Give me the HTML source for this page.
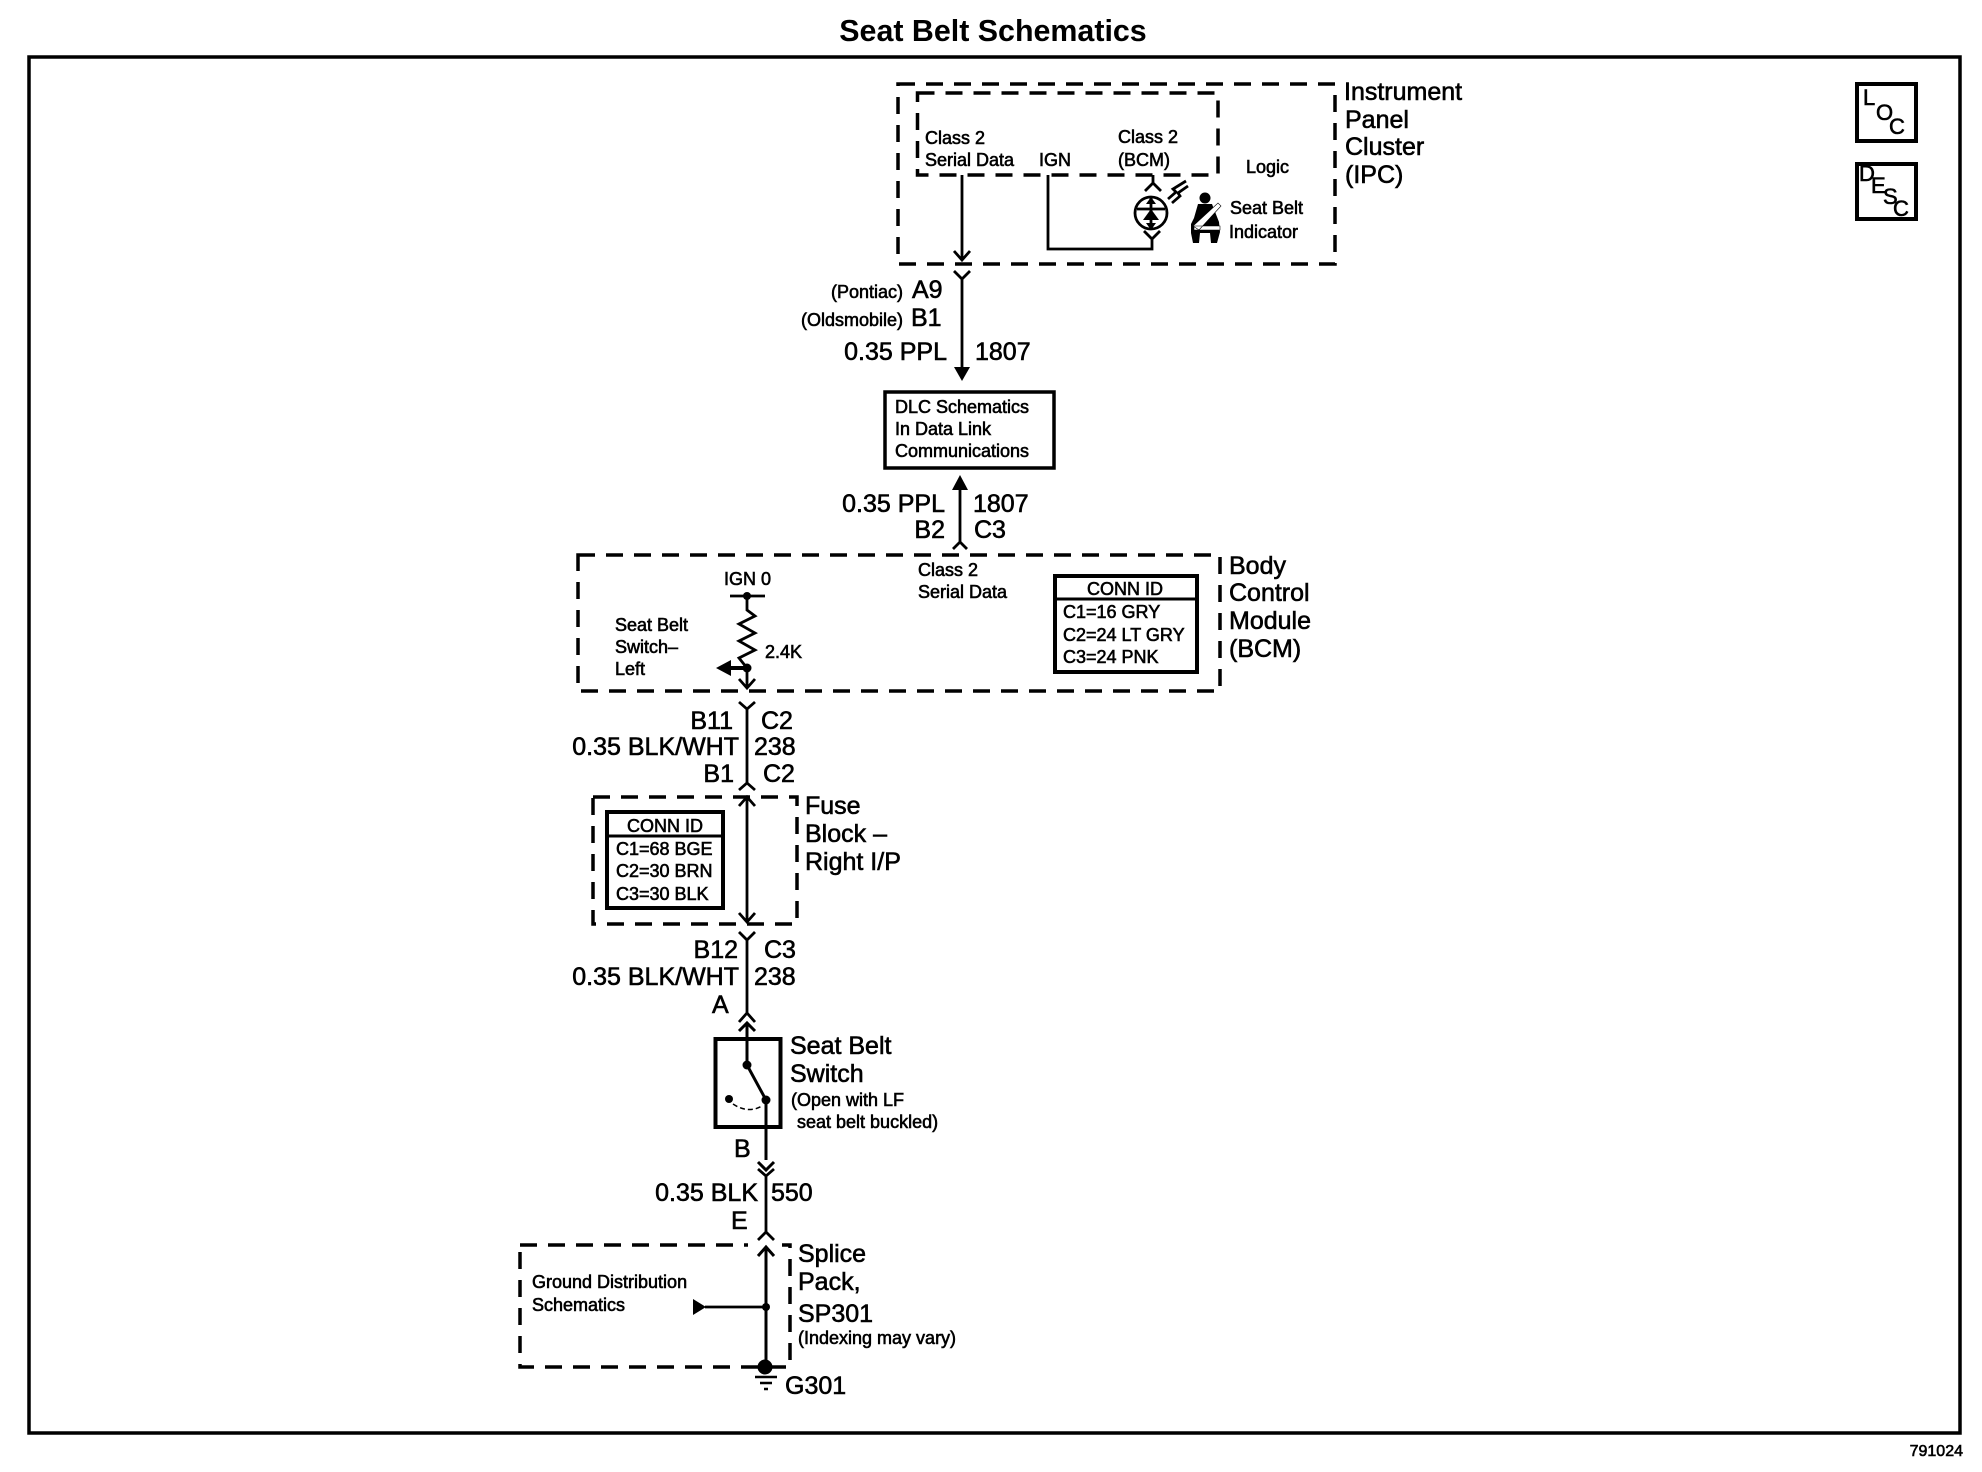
<!DOCTYPE html>
<html><head><meta charset="utf-8"><style>
html,body{margin:0;padding:0;background:#fff}
svg{display:block}
text{font-family:"Liberation Sans",Arial,sans-serif;fill:#000;stroke:#000;stroke-width:.6}
.L{font-size:25px}
.S{font-size:18px}
.T{font-size:30.4px;font-weight:bold;stroke-width:0}
.K{font-size:22px}
.E{text-anchor:end}
.w{fill:none;stroke:#000;stroke-width:2.8}
.d{fill:none;stroke:#000;stroke-width:3.5;stroke-dasharray:17 11}
</style></head><body>
<svg width="1982" height="1472" viewBox="0 0 1982 1472" xmlns="http://www.w3.org/2000/svg">
<text x="993" y="41" text-anchor="middle" class="T">Seat Belt Schematics</text>
<rect x="29" y="57" width="1931" height="1376" fill="none" stroke="#000" stroke-width="3.5"/>
<text x="1963" y="1456" text-anchor="end" style="font-size:16px">791024</text>

<!-- LOC / DESC -->
<rect x="1857" y="84" width="59" height="57" fill="none" stroke="#000" stroke-width="4"/>
<text x="1863" y="105" class="K">L</text><text x="1876" y="120" class="K">O</text><text x="1889" y="134" class="K">C</text>
<rect x="1857" y="164" width="59" height="55" fill="none" stroke="#000" stroke-width="4"/>
<text x="1859" y="181" class="K">D</text><text x="1871" y="193" class="K">E</text><text x="1883" y="204" class="K">S</text><text x="1893" y="216" class="K">C</text>

<!-- IPC -->
<rect x="898" y="84" width="437" height="180" class="d"/>
<rect x="917.5" y="93" width="300.500" height="82" class="d"/>
<text x="1344" y="100" class="L">Instrument</text>
<text x="1345" y="128" class="L">Panel</text>
<text x="1345" y="155" class="L">Cluster</text>
<text x="1345" y="183" class="L">(IPC)</text>
<text x="925" y="144" class="S">Class 2</text>
<text x="925" y="166" class="S">Serial Data</text>
<text x="1039" y="166" class="S">IGN</text>
<text x="1118" y="143" class="S">Class 2</text>
<text x="1118" y="166" class="S">(BCM)</text>
<text x="1246" y="173" class="S">Logic</text>
<text x="1230" y="214" class="S">Seat Belt</text>
<text x="1229" y="238" class="S">Indicator</text>

<path class="w" d="M962 175V260M954 251L962 260L970 251"/>
<path class="w" d="M954 271L962 279L970 271M962 279V368"/>
<path d="M954 367H970L962 381Z"/>
<path class="w" d="M1048 175V249H1152V239M1144 231L1152 239L1160 231"/>
<path class="w" d="M1153 175V183M1145 191L1153 183L1161 191"/>
<circle cx="1151" cy="213" r="16" fill="none" stroke="#000" stroke-width="2.8"/>
<path class="w" d="M1151 197V229M1137 209H1165"/>
<path d="M1151 209L1143 220H1159Z"/>
<path d="M1151 197L1146 204H1156ZM1151 230L1146 223H1156Z"/>
<path class="w" d="M1168 199L1176 192L1173 189L1186 181M1172 203L1180 196L1178 193L1188 186"/>

<!-- seat belt icon -->
<circle cx="1205" cy="198" r="5.5"/>
<path d="M1198 204H1212L1219 222L1220 232L1217 243H1211L1210 233H1200L1199 243H1193L1191 233L1191 224L1194 218Z"/>
<path d="M1193 226L1218 203L1221 206L1199 230ZM1194 226H1220V230H1194Z" fill="#fff" stroke="#000" stroke-width=".6"/>

<!-- left labels -->
<text x="903" y="298" class="S E">(Pontiac)</text>
<text x="903" y="326" class="S E">(Oldsmobile)</text>
<text x="912" y="298" class="L">A9</text>
<text x="911" y="326" class="L">B1</text>
<text x="947" y="360" class="L E">0.35 PPL</text>
<text x="975" y="360" class="L">1807</text>

<!-- DLC -->
<rect x="885" y="392" width="169" height="76" fill="#fff" stroke="#000" stroke-width="3.5"/>
<text x="895" y="413" class="S">DLC Schematics</text>
<text x="895" y="435" class="S">In Data Link</text>
<text x="895" y="457" class="S">Communications</text>

<path d="M952 490H968L960 475Z"/>
<path class="w" d="M960 489V542M953 549L960 542L967 549"/>
<text x="945" y="512" class="L E">0.35 PPL</text>
<text x="973" y="512" class="L">1807</text>
<text x="945" y="538" class="L E">B2</text>
<text x="974" y="538" class="L">C3</text>

<!-- BCM -->
<rect x="578" y="555" width="642" height="136" class="d"/>
<text x="1229" y="574" class="L">Body</text>
<text x="1229" y="601" class="L">Control</text>
<text x="1229" y="629" class="L">Module</text>
<text x="1229" y="657" class="L">(BCM)</text>
<text x="918" y="576" class="S">Class 2</text>
<text x="918" y="598" class="S">Serial Data</text>
<text x="724" y="585" class="S">IGN 0</text>
<path class="w" d="M730 596H765M747 596V610L755 616L739 624L755 633L739 641L755 650L739 658L747 668V688M739 679L747 688L755 679"/>
<circle cx="747" cy="596" r="4"/>
<circle cx="747" cy="668" r="4.5"/>
<path d="M716 668L731 660V676Z"/><path d="M730 666.500H747V669.500H730Z" stroke="#000"/>
<text x="765" y="658" class="S">2.4K</text>
<text x="615" y="631" class="S">Seat Belt</text>
<text x="615" y="653" class="S">Switch–</text>
<text x="615" y="675" class="S">Left</text>
<rect x="1055" y="576" width="142" height="96" fill="#fff" stroke="#000" stroke-width="4"/>
<path d="M1055 599H1197" stroke="#000" stroke-width="3"/>
<text x="1125" y="595" text-anchor="middle" class="S">CONN ID</text>
<text x="1063" y="618" class="S">C1=16 GRY</text>
<text x="1063" y="641" class="S">C2=24 LT GRY</text>
<text x="1063" y="663" class="S">C3=24 PNK</text>

<path class="w" d="M739 702L747 709L755 702M747 709V783M739 790L747 783L755 790"/>
<text x="733" y="729" class="L E">B11</text>
<text x="761" y="729" class="L">C2</text>
<text x="739" y="755" class="L E">0.35 BLK/WHT</text>
<text x="754" y="755" class="L">238</text>
<text x="734" y="782" class="L E">B1</text>
<text x="763" y="782" class="L">C2</text>

<!-- Fuse -->
<rect x="593" y="797" width="204" height="127" class="d"/>
<path class="w" d="M739 806L747 797L755 806M747 797V922M739 913L747 922L755 913"/>
<rect x="607" y="812" width="116" height="96" fill="#fff" stroke="#000" stroke-width="4"/>
<path d="M607 836H723" stroke="#000" stroke-width="3"/>
<text x="665" y="832" text-anchor="middle" class="S">CONN ID</text>
<text x="616" y="855" class="S">C1=68 BGE</text>
<text x="616" y="877" class="S">C2=30 BRN</text>
<text x="616" y="900" class="S">C3=30 BLK</text>
<text x="805" y="814" class="L">Fuse</text>
<text x="805" y="842" class="L">Block –</text>
<text x="805" y="870" class="L">Right I/P</text>

<path class="w" d="M739 932L747 940L755 932M747 940V1013M739 1022L747 1013L755 1022"/>
<text x="738" y="958" class="L E">B12</text>
<text x="764" y="958" class="L">C3</text>
<text x="739" y="985" class="L E">0.35 BLK/WHT</text>
<text x="754" y="985" class="L">238</text>
<text x="712" y="1013" class="L">A</text>

<!-- Switch -->
<rect x="715.500" y="1039" width="65" height="88" fill="none" stroke="#000" stroke-width="4"/>
<path class="w" style="stroke-width:3" d="M739 1031L747 1023L755 1031M747 1023V1065L766 1100V1160M758 1162L766 1170L774 1162"/>
<circle cx="747" cy="1065" r="4.500"/><circle cx="766" cy="1100" r="4.500"/><circle cx="729" cy="1099" r="4"/>
<path d="M733 1104Q748 1114 762 1106" fill="none" stroke="#000" stroke-width="1.500" stroke-dasharray="5 3"/>
<text x="790" y="1054" class="L">Seat Belt</text>
<text x="790" y="1082" class="L">Switch</text>
<text x="791" y="1106" class="S">(Open with LF</text>
<text x="797" y="1128" class="S">seat belt buckled)</text>
<text x="734" y="1157" class="L">B</text>

<path class="w" d="M758 1169L766 1176V1234M758 1240L766 1232L774 1240M774 1169L766 1176"/>
<text x="758" y="1201" class="L E">0.35 BLK</text>
<text x="771" y="1201" class="L">550</text>
<text x="731" y="1229" class="L">E</text>

<!-- Splice -->
<path class="d" d="M520 1245H748"/>
<path class="d" d="M782 1245H790V1367H520V1245" stroke-dashoffset="6"/>
<path class="w" style="stroke-width:3" d="M758 1256L766 1247L774 1256M766 1247V1367"/>
<path d="M693 1299V1315L706 1307Z"/>
<path class="w" d="M705 1307H766"/>
<circle cx="766" cy="1307" r="4"/>
<circle cx="765" cy="1367" r="7.500"/>
<path d="M755 1377H777M760 1383H772M764 1389H768" stroke="#000" stroke-width="2.500"/>
<text x="798" y="1262" class="L">Splice</text>
<text x="798" y="1290" class="L">Pack,</text>
<text x="798" y="1322" class="L">SP301</text>
<text x="798" y="1344" class="S">(Indexing may vary)</text>
<text x="785" y="1394" class="L">G301</text>
<text x="532" y="1288" class="S">Ground Distribution</text>
<text x="532" y="1311" class="S">Schematics</text>
</svg>
</body></html>
